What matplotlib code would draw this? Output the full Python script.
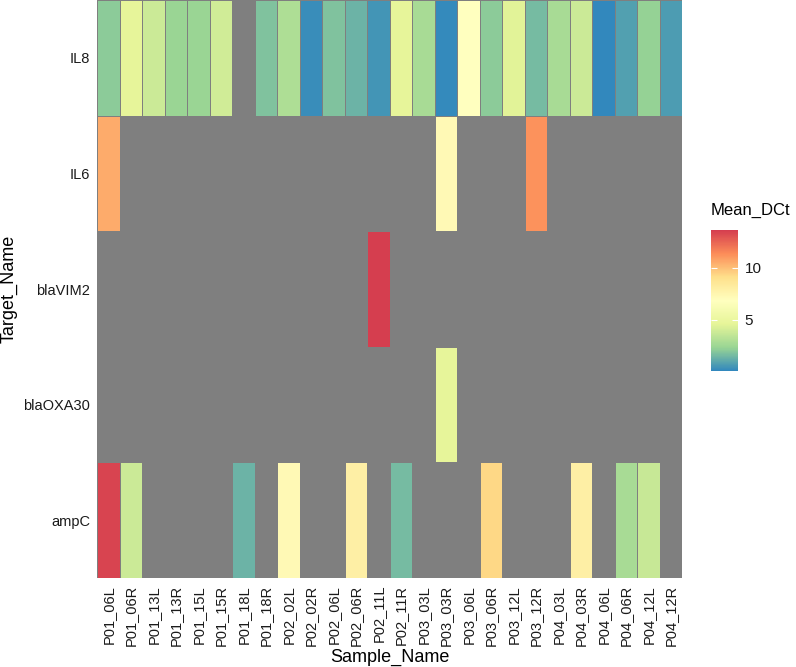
import matplotlib
matplotlib.use('Agg')
import matplotlib.pyplot as plt
import numpy as np
from matplotlib.colors import LinearSegmentedColormap, Normalize

plt.rcParams['font.family'] = ['Liberation Sans', 'DejaVu Sans']

samples = ["P01_06L", "P01_06R", "P01_13L", "P01_13R", "P01_15L", "P01_15R",
           "P01_18L", "P01_18R", "P02_02L", "P02_02R", "P02_06L", "P02_06R",
           "P02_11L", "P02_11R", "P03_03L", "P03_03R", "P03_06L", "P03_06R",
           "P03_12L", "P03_12R", "P04_03L", "P04_03R", "P04_06L", "P04_06R",
           "P04_12L", "P04_12R"]
# bottom -> top
targets = ["ampC", "blaOXA30", "blaVIM2", "IL6", "IL8"]

nan = np.nan
il8 = [2.1, 4.7, 3.8, 2.4, 2.4, 4.0, nan, 1.8, 3.0, 0.3, 1.8, 1.4, 0.5,
       4.7, 2.8, 0.2, 6.8, 2.1, 4.5, 1.6, 2.8, 3.8, 0.1, 0.8, 2.3, 0.7]
il6 = [10.5, nan, nan, nan, nan, nan, nan, nan, nan, nan, nan, nan, nan,
       nan, nan, 7.3, nan, nan, nan, 11.2, nan, nan, nan, nan, nan, nan]
blavim2 = [nan] * 12 + [13.6] + [nan] * 13
blaoxa30 = [nan] * 15 + [4.7] + [nan] * 10
ampc = [13.4, 3.8, nan, nan, nan, nan, 1.4, nan, 7.3, nan, nan, 8.0, nan,
        1.6, nan, nan, nan, 9.3, nan, nan, nan, 8.0, nan, 2.8, 3.7, nan]

values = np.array([ampc, blaoxa30, blavim2, il6, il8], dtype=float)

spectral = ["#3288BD", "#99D594", "#E6F598", "#FFFFBF", "#FEE08B", "#FC8D59", "#D53E4F"]
cmap = LinearSegmentedColormap.from_list("spec", spectral)
cmap.set_bad("#7F7F7F")
norm = Normalize(vmin=np.nanmin(values), vmax=np.nanmax(values))

fig = plt.figure(figsize=(7.96, 6.67), dpi=100)
ax = fig.add_axes([0.122, 0.1334, 0.735, 0.8666])
ax.set_facecolor("#7F7F7F")
x = np.arange(len(samples) + 1)
y = np.arange(len(targets) + 1)
mesh = ax.pcolormesh(x, y, np.ma.masked_invalid(values), cmap=cmap, norm=norm,
                     edgecolor="#7F7F7F", linewidth=0.4)
ax.set_xlim(0, len(samples))
ax.set_ylim(0, len(targets))
ax.set_xticks(np.arange(len(samples)) + 0.5)
ax.set_xticklabels(samples, rotation=90, fontsize=10.5, color="#1a1a1a")
ax.set_yticks(np.arange(len(targets)) + 0.5)
ax.set_yticklabels(targets, fontsize=10.5, color="#1a1a1a")
ax.tick_params(length=0, pad=5)
for s in ax.spines.values():
    s.set_visible(False)
ax.set_xlabel("Sample_Name", fontsize=13, labelpad=2)
ax.set_ylabel("Target_Name", fontsize=13)

cax = fig.add_axes([0.893, 0.4438, 0.034, 0.211])
cb = fig.colorbar(mesh, cax=cax)
cb.outline.set_visible(False)
cb.set_ticks([5, 10])
cb.ax.yaxis.set_ticks_position('both')
cb.ax.tick_params(direction='in', color='white', length=4, width=0.8, pad=5,
                  labelsize=11, labelcolor="#1a1a1a", labelright=True, labelleft=False)
fig.text(0.893, 0.673, "Mean_DCt", fontsize=12, ha='left', va='bottom')

plt.savefig("out.png", dpi=100)
